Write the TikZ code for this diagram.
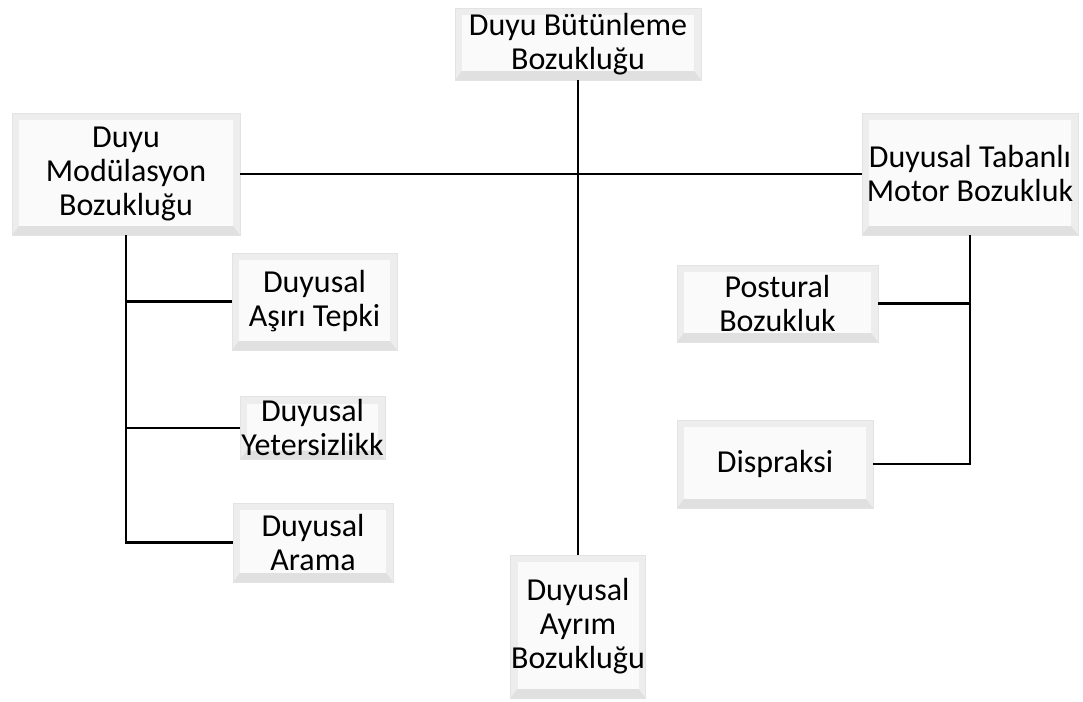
\documentclass[tikz,border=0pt]{standalone}
\usepackage{fontspec}
\setmainfont{Carlito}
\usepackage{tikz}
\usetikzlibrary{positioning}
\usetikzlibrary{calc}

\begin{document}
\begin{tikzpicture}[x=0.5pt, y=-0.5pt,
    kutu/.style={fill=gray!14, draw=gray!22, line width=0.4pt, inner sep=0pt,
      align=center, font=\fontsize{16}{17}\selectfont,
      path picture={
        \fill[white!96!gray] ([shift={(3.5pt,-3.5pt)}]path picture bounding box.north west)
          rectangle ([shift={(-3.5pt,4.5pt)}]path picture bounding box.south east);
        \fill[gray!24] ([shift={(-3.5pt,4.5pt)}]path picture bounding box.south east)
          -- (path picture bounding box.south east)
          -- (path picture bounding box.south west)
          -- ([shift={(3.5pt,4.5pt)}]path picture bounding box.south west) -- cycle;
      }},
    hat/.style={line width=1.2pt}
    ]

    \useasboundingbox (0,0) rectangle (1083,702);

    % ust ve ana kutular
    \node[kutu, minimum width=123pt, minimum height=36pt] (butunleme) at (578,44)
      {Duyu Bütünleme\\Bozukluğu};
    \node[kutu, minimum width=114pt, minimum height=61pt] (modulasyon) at (126,174)
      {Duyu\\Modülasyon\\Bozukluğu};
    \node[kutu, minimum width=108pt, minimum height=61pt] (tabanli) at (970,174)
      {Duyusal Tabanlı\\Motor Bozukluk};
    \node[kutu, minimum width=67.5pt, minimum height=71.5pt] (ayrim) at (578,626.5)
      {Duyusal\\Ayrım\\Bozukluğu};

    % sol alt kutular
    \node[kutu, minimum width=82.5pt, minimum height=48.5pt] (asiri) at (314.5,301.5)
      {Duyusal\\Aşırı Tepki};
    \node[kutu, minimum width=72.5pt, minimum height=31.5pt] (yeter) at (312.5,428)
      {Duyusal\\Yetersizlikk};
    \node[kutu, minimum width=80pt, minimum height=39.5pt] (arama) at (313,542.5)
      {Duyusal\\Arama};

    % sag alt kutular
    \node[kutu, minimum width=100.5pt, minimum height=38.5pt] (postural) at (777.5,303.5)
      {Postural\\Bozukluk};
    \node[kutu, minimum width=98pt, minimum height=44pt] (dispraksi) at (775,464)
      {Dispraksi};

    % baglantilar
    \draw[hat] (butunleme.south) -- (ayrim.north);
    \draw[hat] (modulasyon.east) -- (modulasyon.east -| butunleme.south);
    \draw[hat] (butunleme.south |- tabanli.west) -- (tabanli.west);

    \draw[hat] (modulasyon.south) -- (modulasyon.south |- arama.west) -- (arama.west);
    \draw[hat] (modulasyon.south |- asiri.west) -- (asiri.west);
    \draw[hat] (modulasyon.south |- yeter.west) -- (yeter.west);

    \draw[hat] (tabanli.south) -- (tabanli.south |- dispraksi.east) -- (dispraksi.east);
    \draw[hat] (tabanli.south |- postural.east) -- (postural.east);

\end{tikzpicture}
\end{document}
